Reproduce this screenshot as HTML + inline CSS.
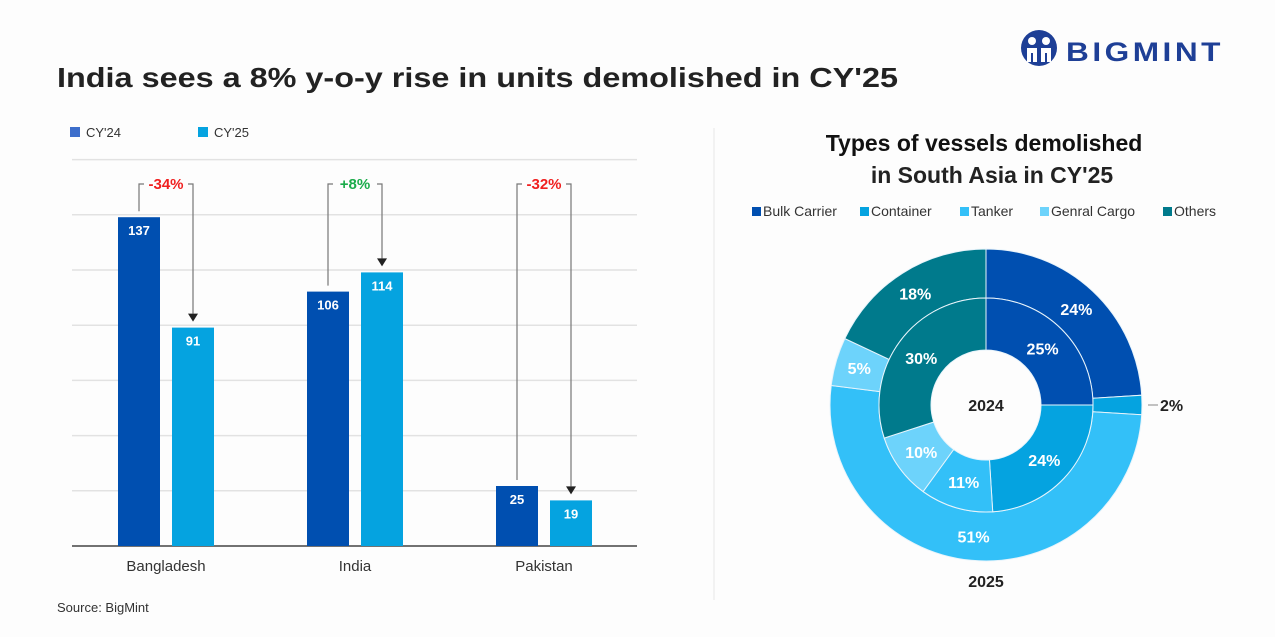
<!DOCTYPE html>
<html><head><meta charset="utf-8"><style>
html,body{margin:0;padding:0;background:#fff;}
svg{display:block;font-family:"Liberation Sans",Arial,sans-serif;}
</style></head><body>
<svg id="root" width="1275" height="637" viewBox="0 0 1275 637">
<rect width="1275" height="637" fill="#fdfdfd"/>
<text x="57" y="87" font-size="28" font-weight="bold" fill="#222" textLength="841" lengthAdjust="spacingAndGlyphs">India sees a 8% y-o-y rise in units demolished in CY'25</text>
<g>
<circle cx="1039" cy="48" r="18" fill="#1e3f96"/>
<circle cx="1032" cy="41" r="4" fill="#fff"/><circle cx="1046" cy="41" r="4" fill="#fff"/>
<path d="M1027 48 h10 v14 h-4 v-9 h-2 v9 h-4z M1041 48 h10 v14 h-4 v-9 h-2 v9 h-4z" fill="#fff"/>
<text x="1066" y="61" font-size="27" font-weight="bold" fill="#1e3f96" letter-spacing="3" textLength="158" lengthAdjust="spacingAndGlyphs">BIGMINT</text>
</g>
<g>
<rect x="70" y="127" width="10" height="10" fill="#3d6ecb"/>
<text x="86" y="137" font-size="13" fill="#333">CY'24</text>
<rect x="198" y="127" width="10" height="10" fill="#05a3e0"/>
<text x="214" y="137" font-size="13" fill="#333">CY'25</text>
</g>
<g id="bars"></g>
<text x="57" y="612" font-size="13" fill="#333">Source: BigMint</text>
<line x1="714" y1="128" x2="714" y2="600" stroke="#e6e6e6" stroke-width="1"/>
<text x="984" y="151" text-anchor="middle" font-size="23" font-weight="bold" fill="#111">Types of vessels demolished</text>
<text x="992" y="183" text-anchor="middle" font-size="23" font-weight="bold" fill="#222">in South Asia in CY'25</text>
<g id="dlegend"></g>
<g id="donut"></g>
<script>
const countries = ["Bangladesh","India","Pakistan"];
const cy24 = [137,106,25];
const cy25 = [91,114,19];
const changes = ["-34%","+8%","-32%"];
const gridVals = [0,1,2,3,4,5,6,7];

const types = ["Bulk Carrier","Container","Tanker","Genral Cargo","Others"];
const share2025 = [24,2,51,5,18];
const share2024 = [25,24,11,10,30];

const NS="http://www.w3.org/2000/svg";
function mk(tag,attrs,parent,txt){const e=document.createElementNS(NS,tag);for(const k in attrs)e.setAttribute(k,attrs[k]);if(txt!==undefined)e.textContent=txt;parent.appendChild(e);return e;}

// bar chart
const g=document.getElementById('bars');
const base=546, scale=2.4, x0=166, groupStep=189, barW=42;
const yS=v=>base-v*scale;
const xS=i=>x0+i*groupStep;
gridVals.forEach(k=>{
  const y=base-k*55.2;
  const l=mk('line',{x1:72,x2:637,y1:y,y2:y,stroke:k===0?'#444':'#e2e2e2','stroke-width':k===0?1.5:1.5},g);
  
  
});
countries.forEach((c,i)=>{
  const cx=xS(i);
  const y1=yS(cy24[i]), y2=yS(cy25[i]);
  const b1=mk('rect',{x:cx-48,y:y1,width:barW,height:base-y1,fill:'#004fb0'},g);
  
  
  const b2=mk('rect',{x:cx+6,y:y2,width:barW,height:base-y2,fill:'#05a3e0'},g);
  
  
  const t1=mk('text',{x:cx-27,y:y1+18,'text-anchor':'middle','font-size':13,'font-weight':'bold',fill:'#fff'},g,cy24[i]);
  
  
  const t2=mk('text',{x:cx+27,y:y2+18,'text-anchor':'middle','font-size':13,'font-weight':'bold',fill:'#fff'},g,cy25[i]);
  
  
  const lx=cx-27, rx=cx+27, ty=184;
  const p=mk('path',{d:`M${lx} ${y1-6} V${ty} H${lx+5} M${rx-5} ${ty} H${rx} V${y2-14}`,stroke:'#777',fill:'none','stroke-width':1.2},g);
  
  
  const a=mk('path',{d:`M${rx-5} ${y2-14} L${rx+5} ${y2-14} L${rx} ${y2-6}Z`,fill:'#222'},g);
  
  
  const pos=changes[i][0]==='+';
  const ct=mk('text',{x:cx,y:ty+5,'text-anchor':'middle','font-size':15,'font-weight':'bold',fill:pos?'#1aab4a':'#f02020'},g,changes[i]);
  
  
  const xl=mk('text',{x:cx,y:571,'text-anchor':'middle','font-size':15,fill:'#333'},g,c);
  
  
});

// donut
const colors=['#004fb0','#05a3e0','#33c0f8','#6dd3fb','#007a8c'];
const dl=document.getElementById('dlegend');
const lxs=[752,860,960,1040,1163];
types.forEach((t,i)=>{
  const r=mk('rect',{x:lxs[i],y:207,width:9,height:9,fill:colors[i]},dl);
  
  
  const tx=mk('text',{x:lxs[i]+11,y:216,'font-size':14,fill:'#333'},dl,t);
  
  
});
const dg=document.getElementById('donut');
const CX=986, CY=405;
function pt(r,a){return [CX+r*Math.sin(a),CY-r*Math.cos(a)];}
function ring(data,r0,r1,name,lr){
  const tot=data.reduce((a,b)=>a+b,0);let acc=0;
  data.forEach((v,i)=>{
    const a0=acc/tot*2*Math.PI; acc+=v; const a1=acc/tot*2*Math.PI;
    const lg=(a1-a0)>Math.PI?1:0;
    const [x0,y0]=pt(r1,a0),[x1,y1]=pt(r1,a1),[x2,y2]=pt(r0,a1),[x3,y3]=pt(r0,a0);
    const s=mk('path',{d:`M${x0} ${y0} A${r1} ${r1} 0 ${lg} 1 ${x1} ${y1} L${x2} ${y2} A${r0} ${r0} 0 ${lg} 0 ${x3} ${y3}Z`,fill:colors[i],stroke:'#e8f4fb','stroke-width':1},dg);
    
    
    const am=(a0+a1)/2;
    if(v<4){
      const [ex,ey]=pt(r1+6,am);
      const ll=mk('line',{x1:ex,y1:ey,x2:ex+10,y2:ey,stroke:'#888'},dg);
      
      
      const t=mk('text',{x:ex+12,y:ey+6,'font-size':16,'font-weight':'bold',fill:'#222'},dg,v+'%');
      
      
    } else {
      const [mx,my]=pt(lr,am);
      const t=mk('text',{x:mx,y:my+6,'text-anchor':'middle','font-size':16,'font-weight':'bold',fill:'#fff'},dg,v+'%');
      
      
    }
  });
}
ring(share2025,107,156,'outer-2025',132);
ring(share2024,55,107,'inner-2024',80);
const c24=mk('text',{x:CX,y:CY+6,'text-anchor':'middle','font-size':16,'font-weight':'bold',fill:'#222'},dg,'2024');


const c25=mk('text',{x:CX,y:587,'text-anchor':'middle','font-size':16,'font-weight':'bold',fill:'#222'},dg,'2025');


</script>
</svg>
</body></html>
